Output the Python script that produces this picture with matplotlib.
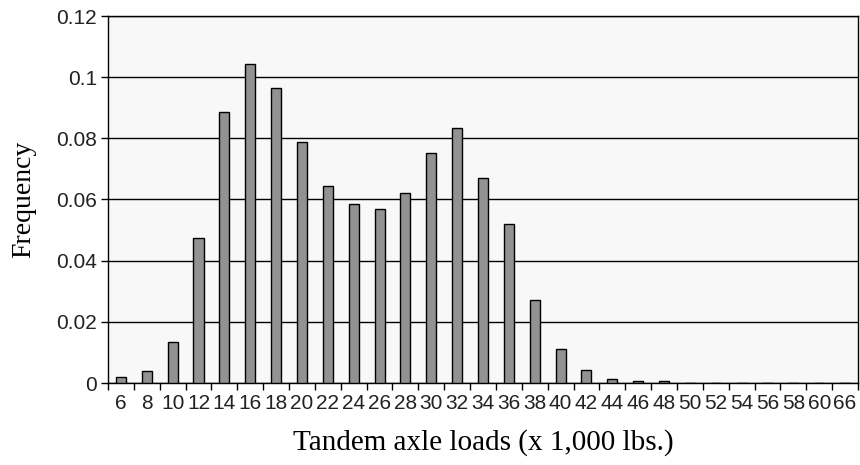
import numpy as np
import matplotlib
matplotlib.use("Agg")
import matplotlib.pyplot as plt

# axle load categories (x 1,000 lbs.)
loads = ["6", "8", "10", "12", "14", "16", "18", "20", "22", "24", "26", "28",
         "30", "32", "34", "36", "38", "40", "42", "44", "46", "48", "50", "52",
         "54", "56", "58", "60", "66"]
frequency = [0.0019, 0.0038, 0.0134, 0.0475, 0.0885, 0.1043, 0.0963, 0.0789,
             0.0645, 0.0586, 0.0568, 0.0622, 0.0751, 0.0834, 0.0669, 0.0520,
             0.0272, 0.0110, 0.0041, 0.0013, 0.0005, 0.0005, 0, 0,
             0, 0, 0, 0, 0]
y_ticks = [0, 0.02, 0.04, 0.06, 0.08, 0.1, 0.12]
y_tick_labels = ["0", "0.02", "0.04", "0.06", "0.08", "0.1", "0.12"]

fig = plt.figure(figsize=(8.6, 4.65), dpi=100)
ax = fig.add_axes([108 / 860, (465 - 383) / 465, 750 / 860, 367 / 465])
ax.set_facecolor("#f8f8f8")

x = np.arange(len(loads))
ax.bar(x, frequency, width=0.39, color="#929292", edgecolor="black", linewidth=1, zorder=3)

ax.set_xlim(-0.5, len(loads) - 0.5)
ax.set_ylim(0, 0.12)

# y axis
ax.set_yticks(y_ticks)
ax.set_yticklabels(y_tick_labels, fontsize=15, family="Liberation Sans", color="#222222")
ax.yaxis.grid(True, color="black", linewidth=1)
ax.set_axisbelow(True)

# x axis: tick marks between categories, labels at centres
ax.set_xticks(np.arange(len(loads) + 1) - 0.5)
ax.set_xticklabels([])
ax.set_xticks(x, minor=True)
ax.set_xticklabels(loads, minor=True, fontsize=15, family="Liberation Sans", color="#222222")
ax.tick_params(axis="x", which="minor", length=0, pad=8)
ax.tick_params(axis="x", which="major", length=5, width=1)
ax.tick_params(axis="y", length=5, width=1, pad=3)

for s in ax.spines.values():
    s.set_color("black")
    s.set_linewidth(1)

ax.set_xlabel("Tandem axle loads (x 1,000 lbs.)", fontsize=21, family="Liberation Serif")
ax.set_ylabel("Frequency", fontsize=20, family="Liberation Serif")
ax.xaxis.set_label_coords(0.5, -0.125)
ax.yaxis.set_label_coords(-0.096, 0.5)

fig.savefig("out.png", dpi=100)
